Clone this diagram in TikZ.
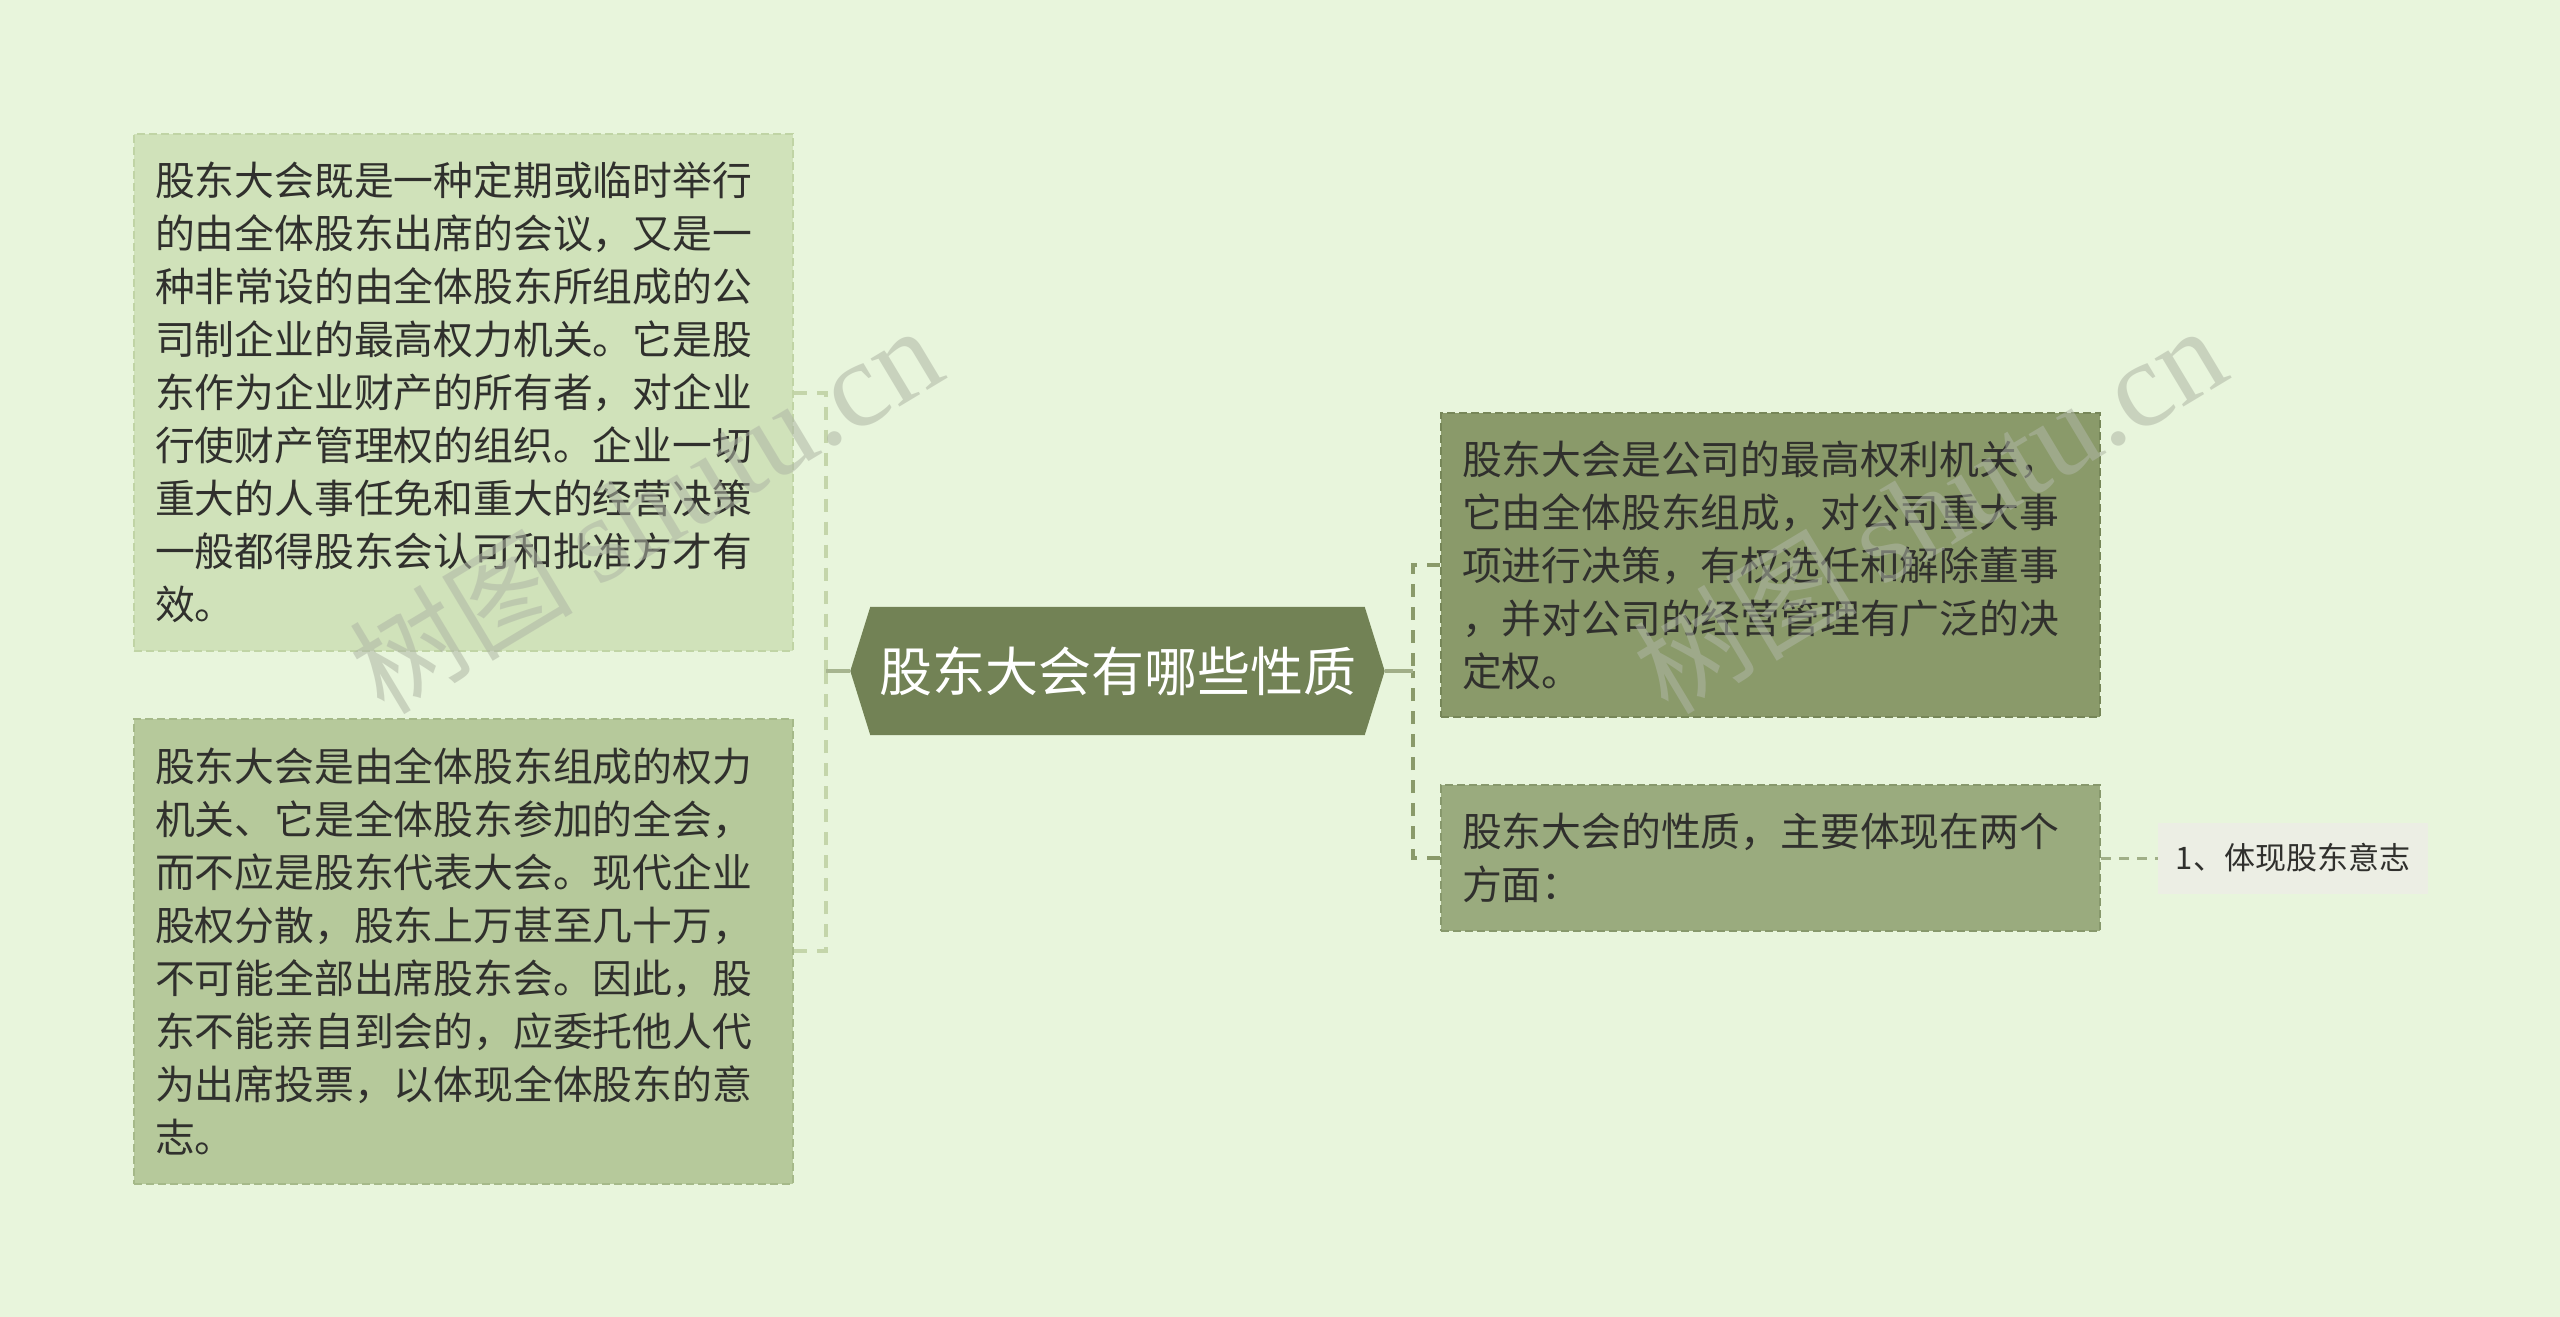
\documentclass[tikz,border=0pt]{standalone}
\usepackage{fontspec}
\setmainfont{Noto Sans CJK SC}
\newfontfamily\wmserif{Liberation Serif}
\usetikzlibrary{backgrounds}
\definecolor{bgc}{RGB}{232,245,220}
\definecolor{boxA}{RGB}{208,226,186}
\definecolor{boxAline}{RGB}{192,212,165}
\definecolor{boxB}{RGB}{182,201,155}
\definecolor{boxBline}{RGB}{165,185,137}
\definecolor{rootc}{RGB}{114,130,85}
\definecolor{boxC}{RGB}{138,154,106}
\definecolor{boxCline}{RGB}{118,134,88}
\definecolor{boxD}{RGB}{154,171,126}
\definecolor{boxDline}{RGB}{135,152,108}
\definecolor{leafc}{RGB}{236,238,228}
\definecolor{textc}{RGB}{48,48,45}
\definecolor{lconn}{RGB}{196,213,170}
\definecolor{rconn}{RGB}{138,154,106}
\definecolor{leafconn}{RGB}{160,175,135}
\definecolor{wmc}{RGB}{175,182,165}
\pgfdeclarelayer{bottom}
\pgfsetlayers{bottom,background,main}
\begin{document}
\begin{tikzpicture}[x=1pt,y=-1pt,
  box/.style={rectangle, text=textc, font=\fontsize{39.8pt}{53pt}\selectfont,
    align=left, text width=617pt, inner xsep=21pt, inner ysep=0pt,
    line width=2pt, dash pattern=on 8pt off 4pt},
  leafbox/.style={rectangle, fill=leafc, text=textc, font=\fontsize{31pt}{38pt}\selectfont,
    minimum width=270pt, minimum height=71pt, inner sep=0pt},
  rootbox/.style={rectangle, minimum width=534pt, minimum height=128pt, inner sep=0pt,
    text=white, font=\fontsize{53pt}{60pt}\selectfont},
  ldash/.style={draw=lconn, line width=4pt, dash pattern=on 13pt off 10pt},
  lsolid/.style={draw=lconn!85!black, line width=4pt},
  rdash/.style={draw=rconn, line width=4pt, dash pattern=on 13pt off 10pt},
  rsolid/.style={draw=rconn!80!white, line width=4pt},
  leafdash/.style={draw=leafconn, line width=3pt, dash pattern=on 10pt off 8pt},
  wm/.style={text=wmc, opacity=0.55, inner sep=0pt}
]
\begin{pgfonlayer}{bottom}
\fill[bgc] (0,0) rectangle (2560,1317);
\end{pgfonlayer}
\useasboundingbox (0,0) rectangle (2560,1317);

% left boxes
\node[box, fill=boxA, draw=boxAline, minimum height=517pt] (b1) at (463.5,392.5) {%
股东大会既是一种定期或临时举行\\
的由全体股东出席的会议，又是一\\
种非常设的由全体股东所组成的公\\
司制企业的最高权力机关。它是股\\
东作为企业财产的所有者，对企业\\
行使财产管理权的组织。企业一切\\
重大的人事任免和重大的经营决策\\
一般都得股东会认可和批准方才有\\
效。};
\node[box, fill=boxB, draw=boxBline, minimum height=465pt] (b2) at (463.5,951) {%
股东大会是由全体股东组成的权力\\
机关、它是全体股东参加的全会，\\
而不应是股东代表大会。现代企业\\
股权分散，股东上万甚至几十万，\\
不可能全部出席股东会。因此，股\\
东不能亲自到会的，应委托他人代\\
为出席投票，以体现全体股东的意\\
志。};

% root
\node[rootbox] (root) at (1117.5,671) {股东大会有哪些性质};
\begin{pgfonlayer}{background}
\fill[rootc] (root.west) -- ([xshift=20pt]root.north west) -- ([xshift=-20pt]root.north east)
  -- (root.east) -- ([xshift=-20pt]root.south east) -- ([xshift=20pt]root.south west) -- cycle;
\end{pgfonlayer}

% right boxes
\node[box, fill=boxC, draw=boxCline, minimum height=304pt] (r1) at (1770.5,565) {%
股东大会是公司的最高权利机关，\\
它由全体股东组成，对公司重大事\\
项进行决策，有权选任和解除董事\\
，并对公司的经营管理有广泛的决\\
定权。};
\node[box, fill=boxD, draw=boxDline, minimum height=146pt] (r2) at (1770.5,858) {%
股东大会的性质，主要体现在两个\\
方面：};

\node[leafbox] (leaf) at (2293,858) {1、体现股东意志};

% connectors
\coordinate (lj) at (826,671);
\coordinate (rj) at (1413,671);
\draw[ldash] (b1.east) -| (lj);
\draw[ldash] (b2.east) -| (lj);
\draw[lsolid] (lj) -- (root.west);
\draw[rdash] (r1.west) -| (rj);
\draw[rdash] (r2.west) -| (rj);
\draw[rsolid] (root.east) -- (rj);
\draw[leafdash] (r2.east) -- (leaf.west);

% watermarks
\node[wm, rotate=31] (wm1) at (645,510) {\fontsize{112pt}{120pt}\selectfont 树图 {\wmserif\fontsize{122pt}{130pt}\selectfont shutu.cn}};
\node[wm, rotate=31] (wm2) at (1929,510) {\fontsize{112pt}{120pt}\selectfont 树图 {\wmserif\fontsize{122pt}{130pt}\selectfont shutu.cn}};
\end{tikzpicture}
\end{document}
